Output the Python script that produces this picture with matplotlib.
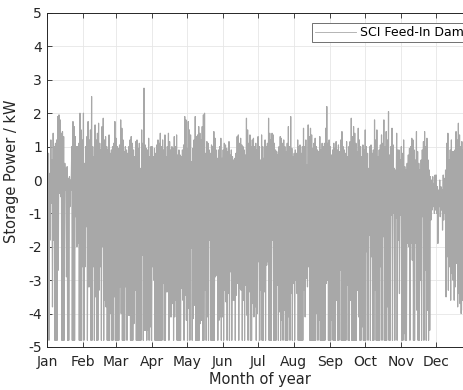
import numpy as np
import matplotlib
matplotlib.use("Agg")
import matplotlib.pyplot as plt

plt.rcParams['font.family'] = ['DejaVu Sans']
plt.rcParams['axes.unicode_minus'] = False

# month ticks (day of year)
month_names = ['Jan', 'Feb', 'Mar', 'Apr', 'May', 'Jun', 'Jul', 'Aug', 'Sep', 'Oct', 'Nov', 'Dec']
month_start = [0, 31, 59, 90, 120, 151, 181, 212, 243, 273, 304, 334]

# daily maximum storage power (kW), one row per month
peak_kw = [
    1.7, 0.8, 0.2, 1.2, 0.6, 1.4, 1.0, 1.1, 1.2, 1.9, 1.95, 1.8, 1.4, 1.45, 1.3, 0.5, 0.35, 0.4, 0.05, 0.1, 0.0, 1.0, 1.75, 1.6, 1.3, 1.0, 1.0, 1.1, 2.0, 1.5, 1.2,
    2.0, 0.5, 1.0, 1.3, 1.75, 1.2, 1.5, 2.5, 1.0, 0.7, 1.65, 1.2, 1.4, 1.7, 1.1, 0.9, 1.6, 1.85, 1.2, 1.3, 1.0, 0.9, 1.35, 0.8, 0.9, 1.0, 1.1, 1.75,
    1.25, 1.0, 0.95, 1.05, 1.8, 1.55, 1.2, 0.85, 1.0, 0.9, 0.8, 1.0, 1.2, 1.3, 1.1, 0.9, 0.7, 1.15, 1.2, 0.95, 1.1, 0.35, 1.5, 1.1, 2.75, 1.05, 0.95, 0.9, 1.25, 0.7, 1.0,
    1.0, 0.7, 0.95, 0.8, 1.05, 1.2, 1.1, 1.4, 1.0, 1.2, 0.9, 1.35, 0.7, 1.0, 1.4, 1.15, 0.9, 1.0, 0.95, 1.3, 1.0, 1.35, 0.75, 0.9, 0.75, 0.7, 0.9, 1.05, 1.9, 1.8,
    0.95, 1.75, 1.5, 1.35, 0.55, 0.95, 1.2, 1.9, 1.3, 1.35, 1.6, 1.4, 1.2, 1.6, 1.95, 2.0, 0.8, 1.15, 1.1, 0.9, 0.8, 1.05, 1.0, 1.45, 1.25, 0.9, 0.65, 0.9, 1.0, 1.25, 0.65,
    0.9, 1.1, 1.05, 0.95, 0.85, 1.15, 0.75, 0.9, 0.7, 0.6, 0.65, 0.8, 1.3, 1.35, 1.1, 1.25, 1.05, 1.0, 0.9, 0.75, 1.85, 1.5, 1.1, 1.35, 1.0, 1.2, 1.25, 1.0, 1.1, 0.9,
    1.3, 1.0, 0.6, 1.35, 1.0, 0.65, 1.2, 1.0, 1.1, 1.85, 1.4, 1.2, 1.4, 1.35, 1.1, 0.9, 0.85, 0.75, 1.0, 1.3, 1.25, 1.1, 1.2, 1.0, 0.85, 1.1, 1.6, 1.0, 1.9, 0.95, 0.7,
    0.8, 0.9, 0.8, 1.2, 1.0, 1.05, 0.8, 1.0, 1.55, 1.0, 1.2, 0.45, 1.65, 1.3, 1.55, 1.35, 0.95, 1.1, 1.25, 1.0, 0.9, 0.85, 1.3, 0.9, 1.1, 1.0, 1.1, 1.55, 2.2, 1.1, 1.2,
    1.0, 0.75, 0.9, 1.1, 0.95, 1.15, 0.9, 1.05, 0.85, 1.2, 1.45, 1.0, 0.9, 0.8, 1.15, 0.7, 1.0, 1.15, 1.85, 1.3, 1.6, 1.4, 1.1, 0.85, 1.55, 1.2, 1.0, 0.7, 1.05, 0.9,
    1.5, 1.0, 0.8, 0.35, 1.0, 1.05, 0.8, 0.9, 1.8, 1.2, 1.5, 0.7, 0.9, 1.05, 1.35, 1.1, 1.8, 1.0, 1.45, 1.2, 2.05, 0.75, 1.0, 1.55, 1.05, 0.35, 0.3, 1.4, 0.9, 0.9, 0.6,
    1.0, 0.8, 1.2, 0.4, 0.3, 0.5, 0.75, 0.95, 1.0, 1.25, 1.2, 0.9, 0.6, 1.45, 0.85, 0.5, 0.3, 0.6, 0.9, 1.15, 1.45, 1.0, 1.25, 0.6, 0.3, 0.1, 0.0, 0.1, -0.1, 0.15,
    0.15, -0.2, -0.3, 0.0, -0.2, -0.3, 0.15, 0.05, 0.3, 1.1, 1.4, 0.6, 0.9, 1.2, 0.85, 0.85, 0.9, 1.45, 1.2, 1.7, 1.35, 1.0, 1.15, 0.9, 1.1, 0.8, 1.0, 0.7, 0.9, 1.2, 0.8,
]

# daily minimum storage power (kW)
trough_kw = [
    -4.5, -4.8, -1.8, -0.7, -3.8, -1.8, -4.8, -4.8, -4.8, -2.7, -0.4, -0.5, -4.8, -4.8, -4.8, -0.3, -2.9, -4.8, -4.8, -0.8, -0.3, -4.8, -4.8, -4.8, -1.1, -2.0, -1.9, -4.8, -4.8, -4.8, -2.6,
    -4.8, -2.6, -1.4, -4.8, -3.2, -3.2, -4.8, -4.8, -2.6, -4.8, -3.5, -4.8, -4.8, -3.3, -2.6, -4.8, -2.0, -4.8, -3.6, -3.8, -4.8, -4.8, -4.8, -4.0, -4.8, -4.8, -3.5, -4.8,
    -4.8, -4.8, -4.8, -3.2, -4.0, -4.8, -4.8, -4.8, -3.2, -4.8, -4.05, -4.05, -4.8, -4.8, -4.8, -4.3, -3.3, -4.8, -4.8, -4.8, -4.8, -4.8, -2.25, -4.8, -4.5, -4.5, -4.8, -4.5, -4.8, -4.4, -4.8,
    -2.6, -3.0, -4.8, -4.8, -4.8, -4.8, -4.8, -4.8, -4.8, -3.1, -4.8, -4.8, -3.35, -3.35, -4.8, -4.1, -4.1, -3.7, -4.8, -4.1, -3.6, -4.8, -4.8, -4.8, -4.8, -3.25, -3.6, -4.8, -3.45, -4.2,
    -4.8, -3.85, -4.8, -2.05, -4.8, -4.15, -3.75, -4.8, -4.8, -4.8, -4.8, -4.3, -4.2, -4.8, -4.8, -3.3, -4.8, -4.1, -4.8, -1.8, -4.8, -4.8, -4.8, -4.8, -2.9, -2.85, -4.8, -4.2, -4.1, -4.8, -4.1,
    -4.8, -3.3, -3.65, -4.8, -3.4, -4.8, -2.75, -4.8, -3.6, -3.6, -4.8, -3.45, -3.1, -4.8, -3.25, -3.3, -4.8, -3.6, -4.8, -3.15, -4.05, -4.8, -3.35, -4.8, -4.8, -3.7, -4.1, -3.8, -4.8, -4.0,
    -2.45, -4.8, -3.3, -4.8, -4.8, -3.35, -4.8, -2.55, -2.45, -4.8, -4.8, -4.8, -1.8, -4.8, -4.8, -4.8, -3.15, -4.8, -3.95, -4.8, -4.2, -4.8, -3.9, -4.8, -4.8, -4.8, -4.1, -4.8, -3.4, -4.8, -3.1,
    -4.8, -3.0, -3.4, -4.8, -4.8, -4.8, -4.8, -4.8, -3.3, -4.1, -2.95, -3.2, -2.6, -4.8, -4.8, -4.8, -4.8, -4.8, -4.8, -4.0, -4.8, -4.2, -4.8, -4.8, -4.8, -4.8, -4.8, -3.1, -3.0, -4.8, -4.8,
    -4.8, -4.2, -4.8, -4.8, -4.8, -3.6, -4.8, -4.8, -2.7, -4.8, -4.8, -4.8, -4.8, -4.8, -3.15, -4.8, -4.8, -3.6, -4.8, -4.8, -4.8, -4.8, -4.8, -3.3, -4.1, -4.8, -4.8, -4.4, -4.8, -4.8,
    -4.8, -2.15, -4.8, -1.65, -4.8, -2.3, -4.8, -4.8, -3.3, -4.8, -4.8, -4.8, -4.8, -2.6, -4.8, -1.7, -4.8, -4.8, -4.8, -3.8, -4.8, -4.8, -1.05, -4.8, -1.0, -4.8, -1.15, -4.8, -1.8, -3.4, -1.05,
    -4.8, -4.8, -4.6, -4.8, -4.8, -1.9, -2.0, -4.8, -1.9, -2.4, -4.8, -4.8, -1.9, -3.9, -4.8, -4.8, -3.0, -4.8, -1.1, -4.8, -2.7, -4.8, -3.9, -4.8, -4.5, -1.2, -0.9, -0.8, -1.0, -0.9,
    -1.0, -1.9, -0.8, -1.1, -0.9, -1.5, -1.2, -1.0, -3.5, -2.3, -3.3, -2.6, -3.6, -2.8, -3.0, -3.6, -3.2, -2.5, -3.8, -3.4, -3.7, -4.0, -3.6, -3.9, -4.0, -3.5, -4.0, -3.2, -3.8, -4.2, -3.6,
]

# one charge peak and one discharge trough per day
days = np.arange(len(peak_kw))
t = np.column_stack([days + 0.3, days + 0.7]).ravel()
p = np.column_stack([peak_kw, trough_kw]).ravel()

W, H = 464, 390
fig = plt.figure(figsize=(W / 100, H / 100), dpi=100)
# x axis runs a little past the right edge of the figure
ax = fig.add_axes([47 / W, 43 / H, 425 / W, 334 / H])

ax.plot(t, p, color='#a8a8a8', lw=0.85, label='SCI Feed-In Damping')

ax.set_xlim(0, 365)
ax.set_ylim(-5, 5)
ax.set_xticks(month_start)
ax.set_xticklabels(month_names)
ax.set_yticks(range(-5, 6))
ax.grid(True, color='#e6e6e6', lw=0.6)
ax.set_axisbelow(True)

ax.tick_params(axis='both', direction='in', top=True, right=True, length=3.5, width=0.6,
               colors='#262626', labelsize=10)
ax.tick_params(axis='x', pad=6)
ax.tick_params(axis='y', pad=3.5)
for s in ax.spines.values():
    s.set_color('#262626')
    s.set_linewidth(0.7)

ax.set_xlabel('Month of year', fontsize=10.5, color='#262626', labelpad=2)
ax.set_ylabel('Storage Power / kW', fontsize=10.5, color='#262626')
ax.yaxis.set_label_coords(-0.065, 0.525)

leg = ax.legend(loc='upper left', bbox_to_anchor=(312 / W, 1 - 23 / H), bbox_transform=fig.transFigure,
                borderaxespad=0, fancybox=False, edgecolor='#5a5a5a', framealpha=1,
                handlelength=3.3, handletextpad=0.3, borderpad=0.25, fontsize=9)
leg.get_frame().set_linewidth(0.6)
leg.get_lines()[0].set_linewidth(0.6)

fig.savefig('out.png', dpi=100)
